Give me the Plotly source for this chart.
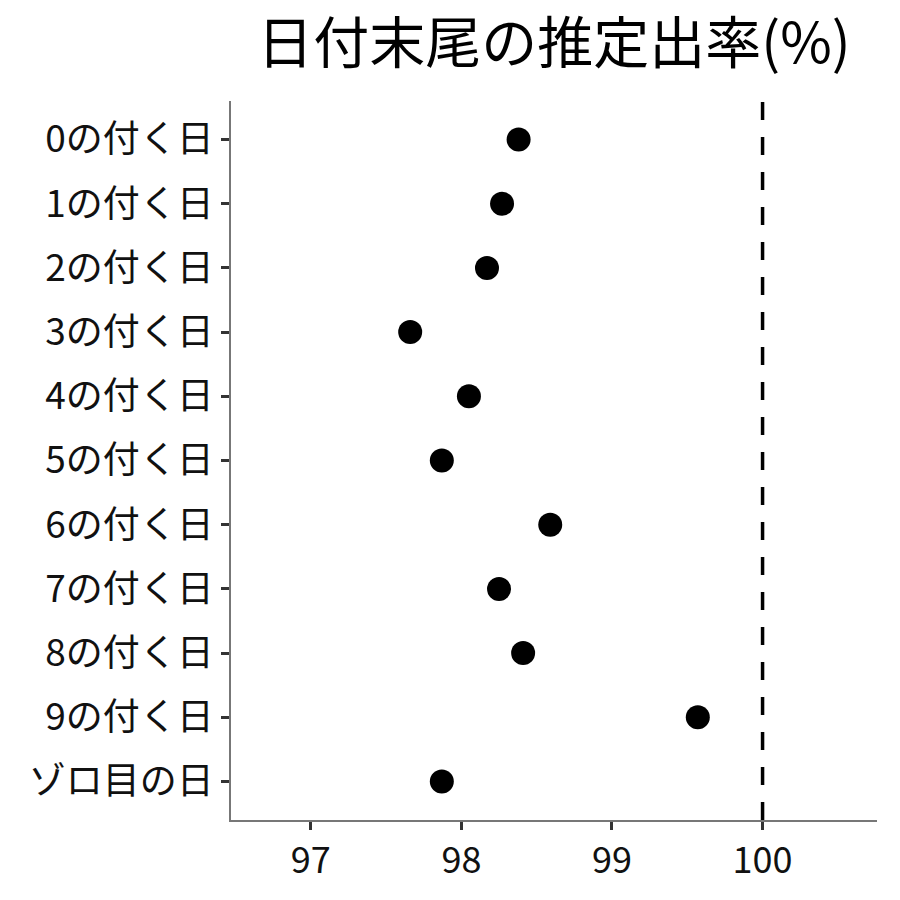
import plotly.graph_objects as go

# 日付末尾ごとの推定出率(%)
categories = ["0の付く日", "1の付く日", "2の付く日", "3の付く日", "4の付く日",
              "5の付く日", "6の付く日", "7の付く日", "8の付く日", "9の付く日", "ゾロ目の日"]
rates = [98.38, 98.27, 98.17, 97.66, 98.05, 97.87, 98.59, 98.25, 98.41, 99.57, 97.87]
ref_line = 100
x_ticks = [97, 98, 99, 100]

FONT = "Noto Sans CJK JP"

fig = go.Figure()
fig.add_trace(go.Scatter(
    x=rates, y=list(range(len(categories))), mode="markers",
    marker=dict(color="black", size=24), showlegend=False,
))
fig.add_vline(x=ref_line, line=dict(color="black", width=3.5, dash="18px,17px"))

fig.update_xaxes(
    range=[96.47, 100.76], tickvals=x_ticks, ticks="outside", ticklen=8, tickwidth=2.5,
    tickcolor="#333333", showline=True, linecolor="#777777", linewidth=1.5,
    showgrid=False, zeroline=False, tickfont=dict(size=36, color="#111111", family=FONT),
)
fig.update_yaxes(
    range=[10.6, -0.6], tickvals=list(range(len(categories))), ticktext=categories,
    ticks="outside", ticklen=8, tickwidth=2.5, tickcolor="#333333",
    showline=True, linecolor="#777777", linewidth=1.5, showgrid=False, zeroline=False,
    tickfont=dict(size=37, color="#111111", family=FONT),
)
fig.update_layout(
    width=900, height=900,
    title=dict(text="日付末尾の推定出率(%)", x=0.5, xref="paper", y=0.982, yanchor="top",
               font=dict(size=56, color="black", family=FONT)),
    plot_bgcolor="white", paper_bgcolor="white",
    margin=dict(l=223, r=31, t=93, b=88),
    font=dict(family=FONT),
)
fig.write_html("out.html")
